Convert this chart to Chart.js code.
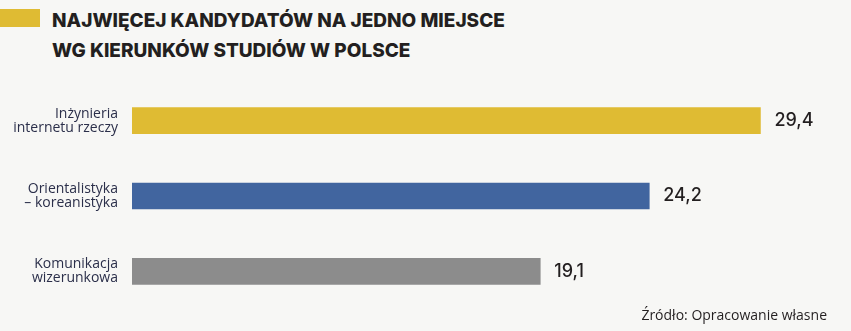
<!DOCTYPE html>
<html>
<head>
<meta charset="utf-8">
<script src="https://cdn.jsdelivr.net/npm/chart.js@4"></script>
<style>
  html, body { margin: 0; padding: 0; background: #f7f7f5; }
  #wrap { position: relative; width: 851px; height: 331px; overflow: hidden; }
  #chart { position: absolute; left: 0; top: 0; }
  .marker { position: absolute; left: 0; top: 9px; width: 40px; height: 18px; background: #dfbb33; }
  .title {
    position: absolute; left: 52px; top: 6px; margin: 0;
    font-family: Inter, sans-serif; font-weight: 800; font-size: 19px;
    line-height: 30px; color: #231f20;
  }
  .source {
    position: absolute; right: 24px; top: 305px;
    font-family: "Open Sans", sans-serif; font-size: 14px; color: #231f20;
  }
</style>
</head>
<body>
<div id="wrap">
  <div class="marker"></div>
  <h1 class="title">NAJWIĘCEJ KANDYDATÓW NA JEDNO MIEJSCE<br>WG KIERUNKÓW STUDIÓW W POLSCE</h1>
  <canvas id="chart" width="851" height="331"></canvas>
  <div class="source">Źródło: Opracowanie własne</div>
</div>
<script>
const categories = [
  ['Inżynieria', 'internetu rzeczy'],
  ['Orientalistyka', '– koreanistyka'],
  ['Komunikacja', 'wizerunkowa']
]
const values = [29.4, 24.2, 19.1]
const barColors = ['#dfbb33', '#41659f', '#8c8c8c']

// writes the value to the right of each bar, with a decimal comma
const valueLabels = {
  id: 'valueLabels',
  afterDatasetsDraw(chart) {
    const ctx = chart.ctx
    const meta = chart.getDatasetMeta(0)
    ctx.save()
    ctx.font = '500 18px Inter, sans-serif'
    ctx.fillStyle = '#231f20'
    ctx.textBaseline = 'middle'
    meta.data.forEach((bar, i) => {
      const text = values[i].toFixed(1).replace('.', ',')
      ctx.fillText(text, bar.x + 14, bar.y)
    })
    ctx.restore()
  }
}

new Chart(document.getElementById('chart'), {
  type: 'bar',
  data: {
    labels: categories,
    datasets: [{
      data: values,
      backgroundColor: barColors,
      borderWidth: 0,
      barThickness: 26
    }]
  },
  options: {
    indexAxis: 'y',
    responsive: false,
    animation: false,
    layout: { padding: { top: 83, bottom: 22, left: 0, right: 35 } },
    plugins: {
      legend: { display: false },
      tooltip: { enabled: false }
    },
    scales: {
      x: {
        min: 0,
        max: 32,
        display: false
      },
      y: {
        afterFit(scale) { scale.width = 132 },
        grid: { display: false },
        border: { display: false },
        ticks: {
          color: '#2b2f4a',
          padding: 6,
          font: { family: 'Open Sans', size: 14, lineHeight: 0.98 }
        }
      }
    }
  },
  plugins: [valueLabels]
})
</script>
</body>
</html>
